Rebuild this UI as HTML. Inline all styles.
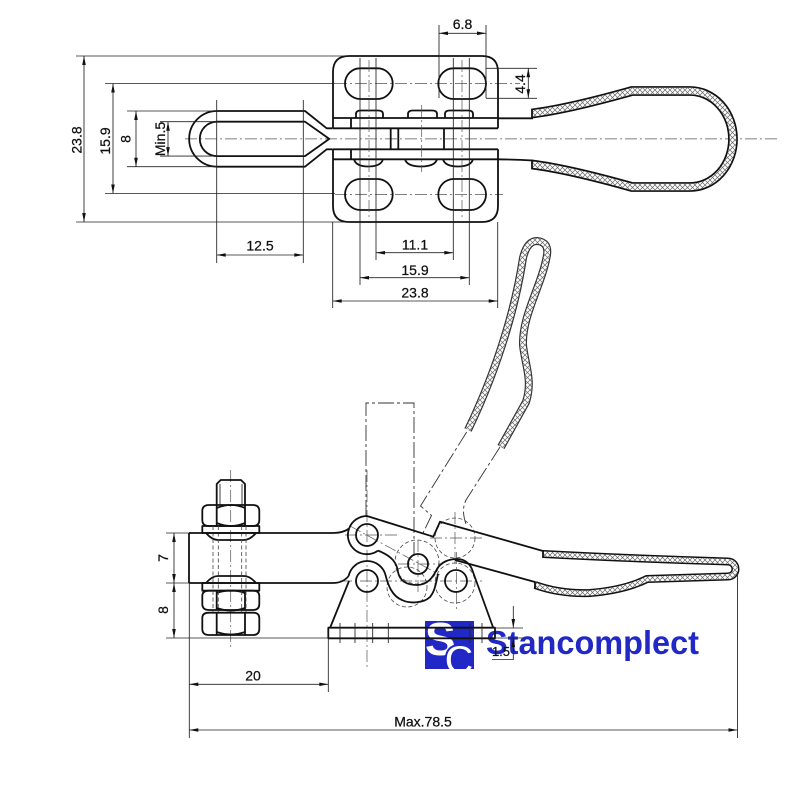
<!DOCTYPE html>
<html><head><meta charset="utf-8"><style>
html,body{margin:0;padding:0;background:#fff;}
svg{display:block;}
text{font-family:"Liberation Sans",Arial,sans-serif;font-size:14px;fill:#111;stroke:#111;stroke-width:0.25;}
.k{fill:none;stroke:#111;stroke-width:1.8;stroke-linejoin:round}
.t{fill:none;stroke:#222;stroke-width:0.85}
.c{fill:none;stroke:#555;stroke-width:0.7;stroke-dasharray:12 3 2 3}
.h{fill:none;stroke:#444;stroke-width:0.8;stroke-dasharray:4 2.5}
.p{fill:none;stroke:#333;stroke-width:0.9;stroke-dasharray:16 3 3 3}
</style></head><body>
<svg width="800" height="800" viewBox="0 0 800 800" xmlns="http://www.w3.org/2000/svg">
<defs>
<marker id="a" viewBox="0 0 10 4" refX="10" refY="2" markerWidth="10" markerHeight="3.6" orient="auto-start-reverse" markerUnits="userSpaceOnUse"><path d="M0,0 L10,2 L0,4 Z" fill="#111"/></marker>
<pattern id="hx" width="5" height="5" patternUnits="userSpaceOnUse"><path d="M0,0 L5,5 M5,0 L0,5" stroke="#666" stroke-width="0.7"/></pattern>
<clipPath id="lc"><rect x="425" y="621" width="49" height="48"/></clipPath>
</defs>

<!-- LOGO (under drawing) -->
<rect x="425" y="621" width="49" height="48" fill="#2128c6"/>
<g clip-path="url(#lc)">
<text x="425" y="655" style="font-size:46px;font-weight:bold;fill:#fff;stroke:none">S</text>
<text x="444" y="674" style="font-size:42px;font-weight:bold;fill:#fff;stroke:#2128c6;stroke-width:2">C</text>
</g>
<text x="486" y="654" textLength="213" lengthAdjust="spacingAndGlyphs" style="font-size:33px;font-weight:bold;fill:#2128c6;stroke:none">Stancomplect</text>

<!-- ================= TOP VIEW ================= -->
<path class="c" d="M185,138.9 H780"/>
<path class="c" d="M335,83.5 H520 M335,194.5 H503"/>
<path class="k" d="M333,118 L333,72 Q333,56 349,56 L482,56 Q498,56 498,72 L498,118"/>
<path class="k" d="M333,118 H498 M333,128.3 H498 M351,118 V128.3 M333,118 V128.3 M498,118 V128.3"/>
<path class="k" d="M333,149.3 H498 M333,159.3 H498 M351,149.3 V159.3"/>
<path class="k" d="M333,149.3 L333,206 Q333,222 349,222 L482,222 Q498,222 498,206 L498,149.3"/>
<path class="k" d="M390.7,128.3 V149.3 M398.3,128.3 V149.3 M444,128.3 V149.3"/>
<rect class="k" x="345" y="68.3" width="47.7" height="30.7" rx="15.3"/>
<rect class="k" x="438.3" y="68.3" width="47.7" height="30.7" rx="15.3"/>
<rect class="k" x="345" y="179" width="47.7" height="31" rx="15.5"/>
<rect class="k" x="438.3" y="179" width="47.7" height="31" rx="15.5"/>
<path class="k" d="M356,118.3 V114 Q356,110.5 361,110.5 H378 Q383,110.5 383,114 V118.3"/>
<path class="k" d="M408,118.3 V114 Q408,110.5 413,110.5 H432 Q437,110.5 437,114 V118.3"/>
<path class="k" d="M445,118.3 V114 Q445,110.5 450,110.5 H468 Q473,110.5 473,114 V118.3"/>
<path class="k" d="M354,159.3 Q356,166.5 368,166.5 Q381,166.5 383,159.3"/>
<path class="k" d="M405,159.3 Q407,166.5 421,166.5 Q435,166.5 437,159.3"/>
<path class="k" d="M443,159.3 Q445,166.5 458,166.5 Q471,166.5 473,159.3"/>
<path class="t" d="M360,58 V285 M376,58 V260 M453.3,58 V260 M469.3,58 V285"/>
<path class="c" d="M369,60 V220 M462,60 V220 M421.7,105 V172"/>
<path class="k" d="M332.7,128.3 L326.7,128.3 L305,111 L217,111 A27.8,27.8 0 0 0 217,166.7 L305,166.7 L326.7,149.3 L332.7,149.3"/>
<path class="k" d="M305,121.7 L217,121.7 A17.2,17.2 0 0 0 217,156.1 L305,156.1 L329.3,138.9 Z"/>
<path class="k" d="M498,118.3 H533 M498,159.3 Q515,159.5 533,160.5"/>
<path d="M532,113.5 C560,110 600,100 632,91 L690,91 A43,48 0 0 1 690,187 L632,187 C600,178 560,168 532,164.5" fill="none" stroke="#111" stroke-width="9.8"/>
<path d="M532,113.5 C560,110 600,100 632,91 L690,91 A43,48 0 0 1 690,187 L632,187 C600,178 560,168 532,164.5" fill="none" stroke="#fff" stroke-width="6.4"/>
<path d="M532,113.5 C560,110 600,100 632,91 L690,91 A43,48 0 0 1 690,187 L632,187 C600,178 560,168 532,164.5" fill="none" stroke="url(#hx)" stroke-width="6.4"/>
<path class="k" d="M532,108.7 V118.3 M532,159.7 V169.3"/>

<!-- top view dimensions -->
<path class="t" d="M76,56 H349 M76,222 H349"/>
<path class="t" d="M84,56 V222" marker-start="url(#a)" marker-end="url(#a)"/>
<text transform="translate(81.5,140) rotate(-90)" text-anchor="middle">23.8</text>
<path class="t" d="M105,83.5 H335 M105,193.5 H335"/>
<path class="t" d="M113,83.5 V193.5" marker-start="url(#a)" marker-end="url(#a)"/>
<text transform="translate(110,141) rotate(-90)" text-anchor="middle">15.9</text>
<path class="t" d="M127,111 H217 M127,166.7 H217"/>
<path class="t" d="M136,111 V166.7" marker-start="url(#a)" marker-end="url(#a)"/>
<text transform="translate(130.7,139) rotate(-90)" text-anchor="middle">8</text>
<path class="t" d="M160,121.7 H217 M160,156.1 H217"/>
<path class="t" d="M168,121.7 V156.1" marker-start="url(#a)" marker-end="url(#a)"/>
<text transform="translate(165,139) rotate(-90)" text-anchor="middle">Min.5</text>
<path class="t" d="M216.7,100 V263 M303.3,100 V263"/>
<path class="t" d="M216.7,255 H303.3" marker-start="url(#a)" marker-end="url(#a)"/>
<text x="260" y="250.5" text-anchor="middle">12.5</text>
<path class="t" d="M376,252.7 H453.3" marker-start="url(#a)" marker-end="url(#a)"/>
<text x="415" y="249.3" text-anchor="middle">11.1</text>
<path class="t" d="M360,277.7 H469.3" marker-start="url(#a)" marker-end="url(#a)"/>
<text x="415" y="275" text-anchor="middle">15.9</text>
<path class="t" d="M332.7,222 V308 M497.7,222 V308"/>
<path class="t" d="M332.7,301 H497.7" marker-start="url(#a)" marker-end="url(#a)"/>
<text x="415" y="297.5" text-anchor="middle">23.8</text>
<path class="t" d="M439,25 V98 M486,25 V98"/>
<path class="t" d="M439,33.3 H486" marker-start="url(#a)" marker-end="url(#a)"/>
<text x="462.5" y="29" text-anchor="middle">6.8</text>
<path class="t" d="M486,68.3 H537 M486,98.3 H537"/>
<path class="t" d="M528.3,68.3 V98.3" marker-start="url(#a)" marker-end="url(#a)"/>
<text transform="translate(525,84) rotate(-90)" text-anchor="middle">4.4</text>

<!-- ================= SIDE VIEW ================= -->
<path class="c" d="M230.7,470 V648"/>
<path class="c" d="M367,470 V668"/>
<path class="c" d="M345,535 H398 M340,581 H482 M398,564 H440 M430,538 H482"/>
<path class="c" d="M418,540 V592 M456.5,552 V612 M455,512 V565"/>
<path class="c" d="M350,526 L440,575"/>
<path class="p" d="M366,516 V403 H414 V556"/>
<path class="p" d="M466.7,432 L420.5,506 L431.5,515.5 L423,533"/>
<path class="p" d="M500,447 L466,500 Q461,510 466,524"/>
<path d="M468,430 C485,395 512,330 523,258 Q527,241 537,241 Q549,242 547,255 C542,285 522,315 523,345 C525,365 533,380 526,402 L501,447" fill="none" stroke="#333" stroke-width="8"/>
<path d="M468,430 C485,395 512,330 523,258 Q527,241 537,241 Q549,242 547,255 C542,285 522,315 523,345 C525,365 533,380 526,402 L501,447" fill="none" stroke="#fff" stroke-width="5.6"/>
<path d="M468,430 C485,395 512,330 523,258 Q527,241 537,241 Q549,242 547,255 C542,285 522,315 523,345 C525,365 533,380 526,402 L501,447" fill="none" stroke="url(#hx)" stroke-width="5.6"/>
<circle class="h" cx="455" cy="538" r="20"/>
<circle class="h" cx="417" cy="562" r="22"/>
<circle class="h" cx="407" cy="587" r="20"/>
<circle class="h" cx="455" cy="583" r="20"/>

<!-- bolt & nuts -->
<path class="k" d="M216.7,505 V484 L220.7,480 H241 L245,484 V505"/>
<path class="t" d="M220,484 V505 M242,484 V505"/>
<path class="k" d="M209,505 H253 Q259.3,505 259.3,511 V520 Q259.3,526 253,526 H209 Q202.3,526 202.3,520 V511 Q202.3,505 209,505 Z"/>
<path class="k" d="M216.7,505 V526 M245,505 V526 M216.7,508 Q231,502 245,508 M216.7,523 Q231,529 245,523"/>
<rect class="k" x="202.3" y="526" width="57" height="7"/>
<path class="k" d="M206,533 Q212,540 218,540 H244 Q250,540 256,533"/>
<path class="k" d="M206,583 Q212,576 218,576 H244 Q250,576 256,583"/>
<rect class="k" x="202.3" y="583" width="57" height="7.7"/>
<path class="k" d="M209,590.7 H253 Q259.3,590.7 259.3,596 V604 Q259.3,610 253,610 H209 Q202.3,610 202.3,604 V596 Q202.3,590.7 209,590.7 Z"/>
<path class="k" d="M216.7,590.7 V610 M245,590.7 V610 M216.7,593 Q231,588 245,593 M216.7,608 Q231,613 245,608"/>
<path class="k" d="M209,612.7 H253 Q259.3,612.7 259.3,618 V629 Q259.3,635 253,635 H209 Q202.3,635 202.3,629 V618 Q202.3,612.7 209,612.7 Z"/>
<path class="k" d="M216.7,612.7 V635 M245,612.7 V635 M216.7,632 Q231,637 245,632"/>
<path class="h" d="M213,526 V612 M218.3,526 V612 M241.7,526 V612 M246,526 V612"/>

<!-- bar -->
<path class="k" d="M189,533 H333 Q343,533 349.1,528.5"/>
<path class="k" d="M189,583 H333 Q343,583 348.6,576"/>
<path class="k" d="M189,533 V583"/>
<path class="k" d="M349.1,528.5 A19,19 0 0 1 367,516 L433.3,536.7 L440,521.7 Q490,536 543,551"/>
<path class="k" d="M349.1,528.5 A19,19 0 0 0 378,550.6"/>
<path class="k" d="M378,550.6 C392,556 397,563 398,572 C400,582 408,585 417,585 C428,585 433,577 437,569 C441,562 449,559 457,559 C466,559 471,565 473,572 L493.3,628"/>
<path class="k" d="M348.6,576 A19,19 0 0 1 385.5,575 C388,585 392,596 402,600 C410,604 424,603 430,597 C435,591 436,583 438,574"/>
<path class="k" d="M330,628 L349,581"/>
<path class="k" d="M455,560 L535,582"/>
<circle class="k" cx="367" cy="535" r="11"/>
<circle class="k" cx="367" cy="581" r="11"/>
<circle class="k" cx="418" cy="564" r="10"/>
<circle class="k" cx="456" cy="581" r="11"/>
<rect class="k" x="328.3" y="627.7" width="166.7" height="10.6"/>
<path class="t" d="M340,623 V643 M355,623 V643 M372.7,623 V643 M388.3,623 V643 M470,623 V643 M482,623 V643"/>

<!-- closed grip -->
<path d="M543,554 Q640,559 728,561.5 A7.5,7.5 0 0 1 728,576.5 L647,579 Q625,590 590,593 Q560,594 535,585" fill="none" stroke="#111" stroke-width="8"/>
<path d="M543,554 Q640,559 728,561.5 A7.5,7.5 0 0 1 728,576.5 L647,579 Q625,590 590,593 Q560,594 535,585" fill="none" stroke="#fff" stroke-width="5"/>
<path d="M543,554 Q640,559 728,561.5 A7.5,7.5 0 0 1 728,576.5 L647,579 Q625,590 590,593 Q560,594 535,585" fill="none" stroke="url(#hx)" stroke-width="5"/>
<path class="k" d="M543,550 V558 M535,581.3 V589"/>

<!-- side dims -->
<path class="t" d="M166,533 H189 M166,583 H189 M166,638 H328"/>
<path class="t" d="M174,533 V583" marker-start="url(#a)" marker-end="url(#a)"/>
<path class="t" d="M174,583 V638" marker-start="url(#a)" marker-end="url(#a)"/>
<text transform="translate(168,558) rotate(-90)" text-anchor="middle">7</text>
<text transform="translate(168,610) rotate(-90)" text-anchor="middle">8</text>
<path class="t" d="M328.3,638 V692"/>
<path class="t" d="M189.3,583 V738 M737.5,572 V738"/>
<path class="t" d="M189.3,684.3 H328.3" marker-start="url(#a)" marker-end="url(#a)"/>
<text x="253" y="680.5" text-anchor="middle">20</text>
<path class="t" d="M189.3,730 H737.5" marker-start="url(#a)" marker-end="url(#a)"/>
<text x="423" y="726.5" text-anchor="middle">Max.78.5</text>
<path class="t" d="M495,628 H523 M495,638 H523"/>
<path class="t" d="M513.3,606 V628" marker-end="url(#a)"/>
<path class="t" d="M513.3,660 V638" marker-end="url(#a)"/>
<path class="t" d="M492,659.5 H513.3"/>
<text x="501" y="656" text-anchor="middle" style="font-size:13px">1.5</text>
</svg>
</body></html>
